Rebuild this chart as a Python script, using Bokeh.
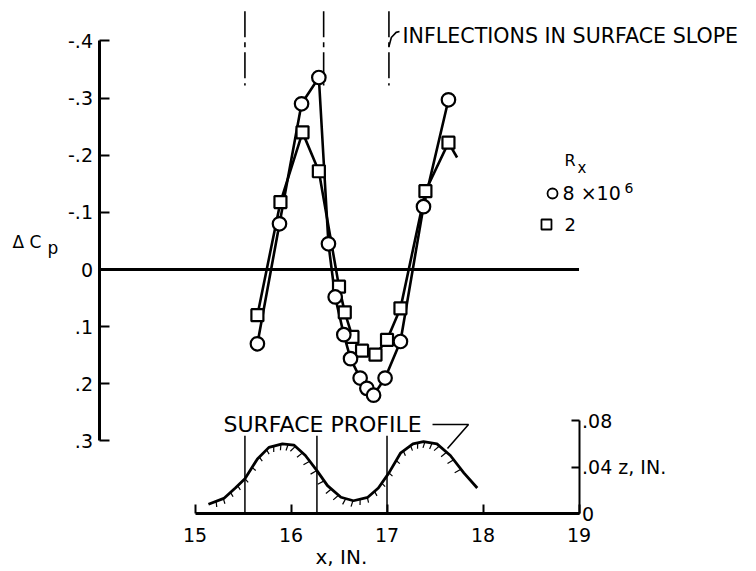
import numpy as np
from bokeh.plotting import figure
from bokeh.models import Range1d, LinearAxis, FixedTicker
from bokeh.embed import file_html
from bokeh.resources import INLINE
from bokeh.core.properties import value

# ---------------- data ----------------
x_ticks = [15, 16, 17, 18, 19]
cp_ticks = [-0.4, -0.3, -0.2, -0.1, 0.0, 0.1, 0.2, 0.3]
cp_tick_labels = ["-.4", "-.3", "-.2", "-.1", "0", ".1", ".2", ".3"]
z_ticks = [0.0, 0.04, 0.08]
z_tick_labels = ["0", ".04  z, IN.", ".08"]

# R_x = 8 x 10^6 (circles)
x_r8 = [15.65, 15.88, 16.11, 16.29, 16.39, 16.46, 16.55, 16.62, 16.72, 16.79, 16.86, 16.98, 17.14, 17.38, 17.64]
cp_r8 = [0.13, -0.08, -0.29, -0.336, -0.045, 0.048, 0.114, 0.156, 0.19, 0.208, 0.22, 0.19, 0.126, -0.11, -0.297]

# R_x = 2 x 10^6 (squares)
x_r2 = [15.65, 15.89, 16.12, 16.29, 16.50, 16.56, 16.64, 16.74, 16.88, 17.00, 17.14, 17.40, 17.64]
cp_r2 = [0.08, -0.118, -0.24, -0.172, 0.03, 0.075, 0.118, 0.142, 0.149, 0.123, 0.068, -0.137, -0.222]
# faired curve tail beyond the last square
x_r2_tail = [17.64, 17.73]
cp_r2_tail = [-0.222, -0.196]

# inflections in surface slope
inflect_x_top = [15.52, 16.34, 17.02]
inflect_x_profile = [15.52, 16.27, 17.00]

# surface profile z(x), inches
profile_x = [15.14, 15.30, 15.42, 15.52, 15.65, 15.77, 15.91, 16.03, 16.15, 16.27, 16.38, 16.52,
             16.65, 16.80, 16.91, 17.02, 17.14, 17.27, 17.38, 17.52, 17.66, 17.80, 17.94]
profile_z = [0.008, 0.013, 0.022, 0.030, 0.047, 0.057, 0.060, 0.059, 0.050, 0.037, 0.024, 0.014,
             0.011, 0.014, 0.022, 0.035, 0.052, 0.060, 0.062, 0.060, 0.050, 0.035, 0.022]

FONT = "DejaVu Sans"

# ---------------- figure ----------------
X_LO, X_HI = 12.974, 20.807
CP_BOTTOM, CP_TOP = 0.5233, -0.4708
Z_BOTTOM, Z_TOP = -0.0474, 0.4422
PX_PER_X = 96.0
PX_PER_Z = 1160.0

p = figure(width=752, height=568, output_backend="svg", toolbar_location=None,
           x_range=Range1d(X_LO, X_HI), y_range=Range1d(CP_BOTTOM, CP_TOP),
           x_axis_location=None, y_axis_location=None,
           min_border_left=0, min_border_right=0, min_border_top=0, min_border_bottom=0)
p.extra_y_ranges = {"z": Range1d(Z_BOTTOM, Z_TOP)}
p.grid.visible = False
p.outline_line_color = None
p.background_fill_color = "white"
p.border_fill_color = "white"


def style_axis(ax, lw):
    ax.axis_line_width = lw
    ax.axis_line_color = "black"
    ax.major_tick_line_width = 2
    ax.major_tick_line_color = "black"
    ax.major_tick_out = 0
    ax.minor_tick_line_color = None
    ax.major_label_text_font = FONT
    ax.major_label_text_font_size = "19px"
    ax.major_label_text_color = "black"


# left Delta Cp axis (inverted)
ax_cp = LinearAxis(fixed_location=14.0, bounds=(-0.4, 0.3),
                   ticker=FixedTicker(ticks=cp_ticks),
                   major_label_overrides=dict(zip(cp_ticks, cp_tick_labels)))
style_axis(ax_cp, 3)
ax_cp.major_tick_in = 10
ax_cp.major_label_standoff = 6
p.add_layout(ax_cp, "left")

# bottom x axis (placed at z = 0)
ax_x = LinearAxis(fixed_location=0.0, y_range_name="z", bounds=(15, 19),
                  ticker=FixedTicker(ticks=x_ticks))
style_axis(ax_x, 3)
ax_x.major_tick_in = 9
ax_x.major_label_standoff = 14
p.add_layout(ax_x, "below")

# right z axis at x = 19
ax_z = LinearAxis(fixed_location=19.0, y_range_name="z", bounds=(0.0, 0.08),
                  ticker=FixedTicker(ticks=z_ticks),
                  major_label_overrides=dict(zip(z_ticks, z_tick_labels)))
style_axis(ax_z, 2)
ax_z.major_tick_in = 8
ax_z.major_label_standoff = 3
p.add_layout(ax_z, "right")

# zero line
p.segment(x0=[14.0], y0=[0.0], x1=[19.0], y1=[0.0], line_color="black", line_width=3)

# inflection markers at top (dash-dot)
p.segment(x0=inflect_x_top, y0=[-0.452] * 3, x1=inflect_x_top, y1=[-0.322] * 3,
          line_color="black", line_width=1.6, line_dash="26 5 5 5")

# leader for inflections
xi = inflect_x_top[2]
p.line(x=[xi, xi + 0.025, xi + 0.075, xi + 0.11], y=[-0.390, -0.406, -0.415, -0.4165],
       line_color="black", line_width=1.6)

# data curves
p.line(x=x_r2, y=cp_r2, line_color="black", line_width=2.6)
p.line(x=x_r2_tail, y=cp_r2_tail, line_color="black", line_width=2.6)
p.line(x=x_r8, y=cp_r8, line_color="black", line_width=2.6)
p.scatter(x=x_r2, y=cp_r2, marker="square", size=12, fill_color="white",
          line_color="black", line_width=2.2)
p.scatter(x=x_r8, y=cp_r8, marker="circle", size=13.5, fill_color="white",
          line_color="black", line_width=2.2)

# surface profile
p.line(x=profile_x, y=profile_z, y_range_name="z", line_color="black", line_width=2.8)
hx = np.arange(15.22, 17.78, 0.075)
hz = np.interp(hx, profile_x, profile_z)
dzdx = (np.interp(hx + 0.03, profile_x, profile_z) - np.interp(hx - 0.03, profile_x, profile_z)) / 0.06
s = dzdx * PX_PER_Z / PX_PER_X
nrm = np.sqrt(1 + s ** 2)
L = 6.0
nx, ny = s / nrm, -1.0 / nrm
p.segment(x0=hx, y0=hz, x1=hx + L * nx / PX_PER_X - 1.5 / PX_PER_X, y1=hz + L * ny / PX_PER_Z,
          y_range_name="z", line_color="black", line_width=1.2)
p.segment(x0=inflect_x_profile, y0=[0.0] * 3, x1=inflect_x_profile, y1=[0.067] * 3,
          y_range_name="z", line_color="black", line_width=1.5)

# surface profile leader
p.line(x=[17.474, 17.849, 17.63], y=[0.0767, 0.0767, 0.056], y_range_name="z",
       line_color="black", line_width=1.6)


def txt(x, y, s, size, align="left", rng="default"):
    p.text(x=[x], y=[y], text=[s], text_font=value(FONT), text_font_size=f"{size}px",
           text_align=align, text_baseline="middle", text_color="black", y_range_name=rng)


txt(17.161, -0.408, "INFLECTIONS IN SURFACE SLOPE", 20.6)
txt(15.297, 0.0767, "SURFACE  PROFILE", 22, rng="z")
txt(16.255, -0.0371, "x, IN.", 20, rng="z")
txt(13.099, -0.049, "\u0394 C", 17)
txt(13.464, -0.0385, "p", 17)

# legend
txt(18.849, -0.1908, "R", 16)
txt(18.984, -0.1785, "x", 15)
p.scatter(x=[18.724], y=[-0.133], marker="circle", size=10, fill_color="white",
          line_color="black", line_width=1.8)
txt(18.828, -0.1339, "8 \u00d710", 19)
txt(19.474, -0.1435, "6", 14)
p.scatter(x=[18.661], y=[-0.0788], marker="square", size=10, fill_color="white",
          line_color="black", line_width=1.8)
txt(18.849, -0.0788, "2", 18)

open("out.html", "w").write(file_html(p, INLINE))
